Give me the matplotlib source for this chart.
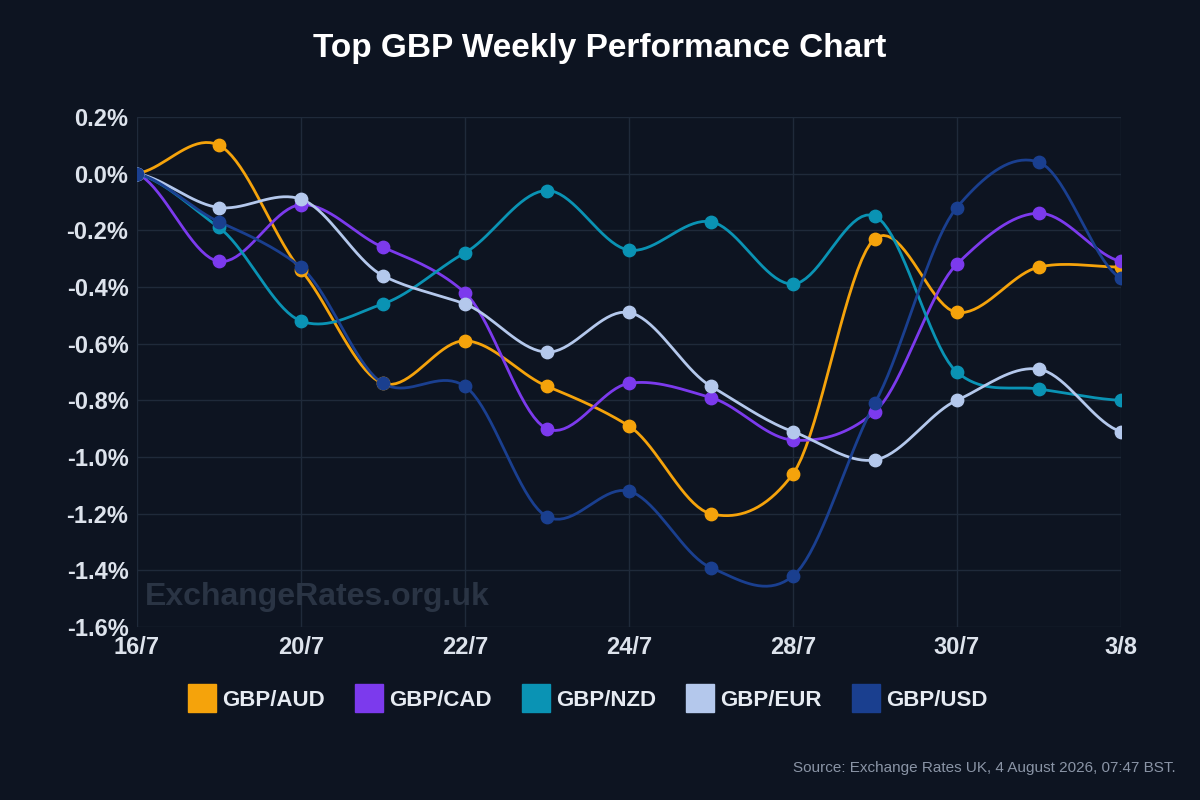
import numpy as np
import matplotlib.pyplot as plt
from matplotlib.lines import Line2D

plt.rcParams['font.family'] = ['Liberation Sans', 'DejaVu Sans']

dates = ['16/7', '', '20/7', '', '22/7', '', '24/7', '', '28/7', '', '30/7', '', '3/8']
gbp_aud = [0, 0.10, -0.34, -0.74, -0.59, -0.75, -0.89, -1.20, -1.06, -0.23, -0.49, -0.33, -0.33]
gbp_cad = [0, -0.31, -0.11, -0.26, -0.42, -0.90, -0.74, -0.79, -0.94, -0.84, -0.32, -0.14, -0.31]
gbp_nzd = [0, -0.19, -0.52, -0.46, -0.28, -0.06, -0.27, -0.17, -0.39, -0.15, -0.70, -0.76, -0.80]
gbp_eur = [0, -0.12, -0.09, -0.36, -0.46, -0.63, -0.49, -0.75, -0.91, -1.01, -0.80, -0.69, -0.91]
gbp_usd = [0, -0.17, -0.33, -0.74, -0.75, -1.21, -1.12, -1.39, -1.42, -0.81, -0.12, 0.04, -0.37]

series = [('GBP/AUD', gbp_aud, '#f5a30b'), ('GBP/CAD', gbp_cad, '#7c3aed'),
          ('GBP/NZD', gbp_nzd, '#0a93b4'), ('GBP/EUR', gbp_eur, '#b4c8ec'),
          ('GBP/USD', gbp_usd, '#1a3f8f')]

bg = '#0d1421'


def smooth(y, n=20, t=0.4):
    # cardinal spline, similar to chart.js tension
    y = np.asarray(y, float)
    x = np.arange(len(y), dtype=float)
    xs, ys = [], []
    for i in range(len(y) - 1):
        y0 = y[i - 1] if i > 0 else y[i]
        y3 = y[i + 2] if i + 2 < len(y) else y[i + 1]
        m1 = t * (y[i + 1] - y0)
        m2 = t * (y3 - y[i])
        s = np.linspace(0, 1, n)
        h00 = 2*s**3 - 3*s**2 + 1
        h10 = s**3 - 2*s**2 + s
        h01 = -2*s**3 + 3*s**2
        h11 = s**3 - s**2
        xs.append(x[i] + s)
        ys.append(h00*y[i] + h10*m1 + h01*y[i+1] + h11*m2)
    return np.concatenate(xs), np.concatenate(ys)


fig = plt.figure(figsize=(12, 8), dpi=100, facecolor=bg)
ax = fig.add_axes([0.114, 0.216, 0.82, 0.638], facecolor=bg)
x = np.arange(len(dates))
handles = []
for name, vals, c in series:
    sx, sy = smooth(vals)
    ax.plot(sx, sy, color=c, lw=2, zorder=3)
    ax.scatter(x, vals, s=80, color=c, zorder=4)
    handles.append(Line2D([], [], ls='none', marker='s', markersize=20, color=c, label=name))

ax.set_xlim(0, 12)
ax.set_ylim(-1.6, 0.2)
ax.set_xticks(x)
ax.set_xticklabels(dates)
yt = np.arange(-1.6, 0.21, 0.2)
ax.set_yticks(yt)
ax.set_yticklabels(['%.1f%%' % v if abs(v) > 1e-9 else '0.0%' for v in yt])
ax.grid(axis='y', color='#1f2a3a', lw=1)
for xi, d in zip(x, dates):
    if d:
        ax.axvline(xi, color='#1f2a3a', lw=1, zorder=0)
for s in ax.spines.values():
    s.set_visible(False)
ax.tick_params(colors='#dde3ec', labelsize=17, length=0, pad=6)
for lab in ax.get_xticklabels() + ax.get_yticklabels():
    lab.set_fontweight('bold')

ax.text(0.1, -1.52, 'ExchangeRates.org.uk', fontsize=23, fontweight='bold',
        color='#2a3444', zorder=1)

fig.text(0.5, 0.94, 'Top GBP Weekly Performance Chart', ha='center', va='center',
         fontsize=24, fontweight='bold', color='white')
leg = fig.legend(handles=handles, loc='center', bbox_to_anchor=(0.49, 0.125), ncol=5,
                 frameon=False, fontsize=16, handletextpad=0.3, columnspacing=1.4,
                 handlelength=1.2)
for t in leg.get_texts():
    t.set_color('#e6ebf2')
    t.set_fontweight('bold')
fig.text(0.98, 0.035, 'Source: Exchange Rates UK, 4 August 2026, 07:47 BST.',
         ha='right', fontsize=11, color='#8a94a6')

fig.savefig('out.png', facecolor=bg)
